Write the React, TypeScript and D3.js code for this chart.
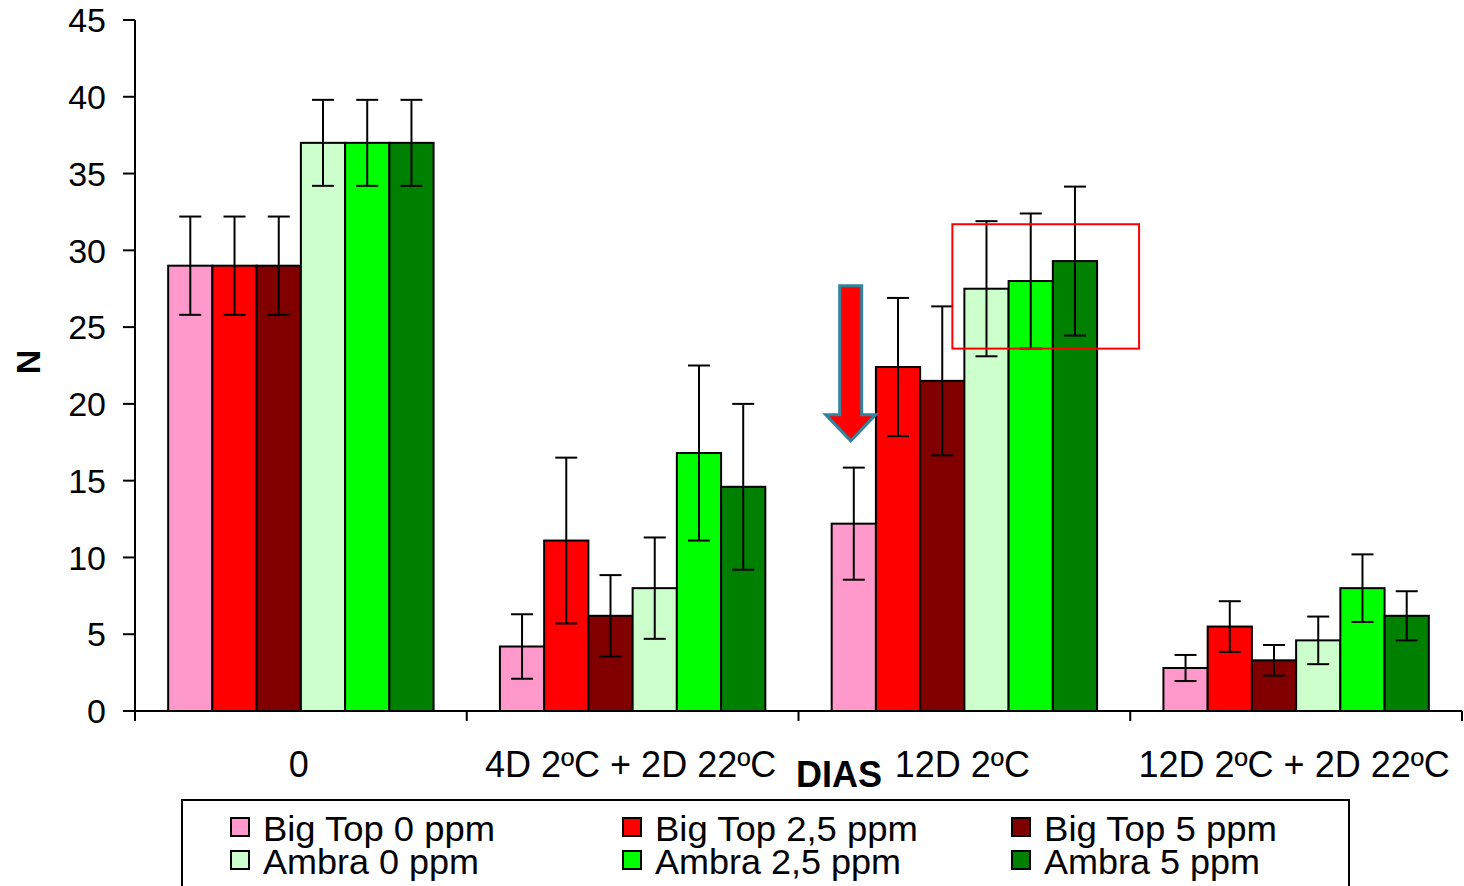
import React from "react";
import * as d3 from "d3";

const categories = ["0", "4D 2ºC + 2D 22ºC", "12D 2ºC", "12D 2ºC + 2D 22ºC"];
const seriesNames = ["Big Top 0 ppm", "Big Top 2,5 ppm", "Big Top 5 ppm", "Ambra 0 ppm", "Ambra 2,5 ppm", "Ambra 5 ppm"];
const seriesColors = ["#FF99CC", "#FF0000", "#800000", "#CCFFCC", "#00FF00", "#008000"];
// values[series][category]
const bigTop0 = [29, 4.2, 12.2, 2.8];
const bigTop25 = [29, 11.1, 22.4, 5.5];
const bigTop5 = [29, 6.2, 21.5, 3.3];
const ambra0 = [37, 8.0, 27.5, 4.6];
const ambra25 = [37, 16.8, 28.0, 8.0];
const ambra5 = [37, 14.6, 29.3, 6.2];
const errBigTop0 = [3.2, 2.1, 3.65, 0.85];
const errBigTop25 = [3.2, 5.4, 4.5, 1.65];
const errBigTop5 = [3.2, 2.65, 4.85, 1.0];
const errAmbra0 = [2.8, 3.3, 4.4, 1.55];
const errAmbra25 = [2.8, 5.7, 4.4, 2.2];
const errAmbra5 = [2.8, 5.4, 4.85, 1.6];
const yTicks = [0, 5, 10, 15, 20, 25, 30, 35, 40, 45];

const values = [bigTop0, bigTop25, bigTop5, ambra0, ambra25, ambra5];
const errors = [errBigTop0, errBigTop25, errBigTop5, errAmbra0, errAmbra25, errAmbra5];

const FONT = "Liberation Sans, Arial, sans-serif";

export default function App() {
  const W = 1464, H = 886;
  const left = 135, right = 1462, top = 20, bottom = 711;
  const y = d3.scaleLinear().domain([0, 45]).range([bottom, top]);
  const x0 = d3.scaleBand<string>().domain(categories).range([left, right]).padding(0);
  const bw = x0.bandwidth();
  const step = bw / 7.5;
  const x1 = d3.scaleBand<number>().domain(d3.range(6)).range([0.75 * step, bw - 0.75 * step]).padding(0);
  const barW = x1.bandwidth();

  // annotations positioned in data space
  const g2 = x0(categories[2])!;
  const arrowCx = g2 + x1(0)! + 0.43 * barW;
  const arrowTop = y(27.7), arrowHeadY = y(19.3), arrowTip = y(17.6);
  const shaftHalf = 11, headHalf = 25;
  const arrowPath = `M${arrowCx - shaftHalf},${arrowTop} L${arrowCx + shaftHalf},${arrowTop} L${arrowCx + shaftHalf},${arrowHeadY} L${arrowCx + headHalf},${arrowHeadY} L${arrowCx},${arrowTip} L${arrowCx - headHalf},${arrowHeadY} L${arrowCx - shaftHalf},${arrowHeadY} Z`;
  const rectX0 = g2 + x1(3)! - 12;
  const rectX1 = g2 + x1(5)! + barW + 42;
  const rectY0 = y(31.7), rectY1 = y(23.6);

  const legendCols = [231, 623, 1012];
  const legendTextLen = [232, 263, 233, 216, 246, 216];

  return (
    <svg width={W} height={H} style={{ display: "block", position: "absolute", left: 0, top: 0 }} fontFamily={FONT}>
      <rect x={0} y={0} width={W} height={H} fill="#fff" />
      {/* bars */}
      {categories.map((c, ci) =>
        values.map((vals, si) => {
          const bx = x0(c)! + x1(si)!;
          return (
            <rect key={`b${ci}-${si}`} x={bx} y={y(vals[ci])} width={barW} height={y(0) - y(vals[ci])}
              fill={seriesColors[si]} stroke="#000" strokeWidth={2} />
          );
        })
      )}
      {/* error bars */}
      {categories.map((c, ci) =>
        values.map((vals, si) => {
          const cx = x0(c)! + x1(si)! + barW / 2;
          const hi = y(vals[ci] + errors[si][ci]);
          const lo = y(vals[ci] - errors[si][ci]);
          return (
            <g key={`e${ci}-${si}`} stroke="#000" strokeWidth={2}>
              <line x1={cx} x2={cx} y1={hi} y2={lo} />
              <line x1={cx - 11} x2={cx + 11} y1={hi} y2={hi} />
              <line x1={cx - 11} x2={cx + 11} y1={lo} y2={lo} />
            </g>
          );
        })
      )}
      {/* axes */}
      <line x1={left} x2={left} y1={top} y2={bottom} stroke="#000" strokeWidth={2} />
      {yTicks.map((t) => (
        <g key={`yt${t}`}>
          <line x1={left - 12} x2={left} y1={y(t)} y2={y(t)} stroke="#000" strokeWidth={2} />
          <text x={106} y={y(t)} dy="0.36em" textAnchor="end" fontSize={34}>{t}</text>
        </g>
      ))}
      <line x1={left} x2={right} y1={bottom} y2={bottom} stroke="#000" strokeWidth={2} />
      {[...categories.map((c) => x0(c)!), right].map((tx, i) => (
        <line key={`xt${i}`} x1={tx} x2={tx} y1={bottom} y2={bottom + 10} stroke="#000" strokeWidth={2} />
      ))}
      {categories.map((c) => (
        <text key={`xl${c}`} x={x0(c)! + bw / 2 - 2} y={777} textAnchor="middle" fontSize={36}>{c}</text>
      ))}
      <text x={839} y={787} textAnchor="middle" fontSize={36} fontWeight="bold">DIAS</text>
      <text transform={`translate(40,362) rotate(-90)`} textAnchor="middle" fontSize={34} fontWeight="bold">N</text>

      {/* annotations */}
      <path d={arrowPath} fill="#FF0000" stroke="#31849B" strokeWidth={3} strokeLinejoin="miter" />
      <rect x={rectX0} y={rectY0} width={rectX1 - rectX0} height={rectY1 - rectY0} fill="none" stroke="#FF0000" strokeWidth={2} />

      {/* legend */}
      <rect x={182} y={800} width={1167} height={100} fill="#fff" stroke="#000" strokeWidth={2} />
      {seriesNames.map((name, i) => {
        const col = i % 3, row = Math.floor(i / 3);
        const lx = legendCols[col];
        const ly = 818 + row * 33;
        return (
          <g key={`lg${i}`}>
            <rect x={lx} y={ly} width={18} height={18} fill={seriesColors[i]} stroke="#000" strokeWidth={2} />
            <text x={lx + 32} y={ly + 23} fontSize={35} textLength={legendTextLen[i]} lengthAdjust="spacingAndGlyphs">{name}</text>
          </g>
        );
      })}
    </svg>
  );
}
